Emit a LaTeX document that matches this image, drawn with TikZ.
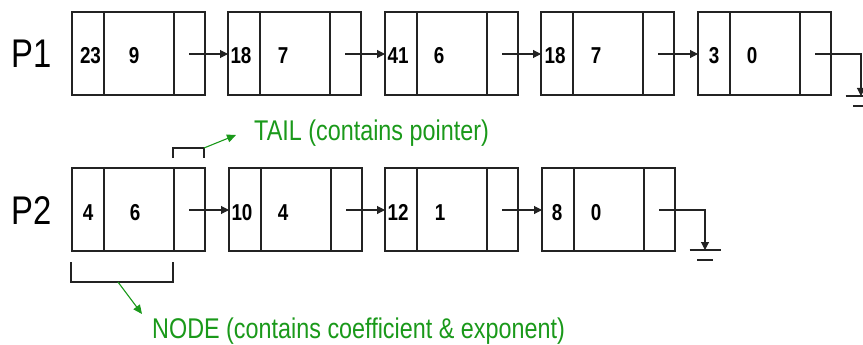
\documentclass[tikz,border=0pt]{standalone}
\usepackage{fontspec}
\setmainfont{Liberation Sans}[FakeStretch=0.82]
\usetikzlibrary{arrows.meta}

\definecolor{ink}{RGB}{35,35,35}
\definecolor{note}{RGB}{26,153,26}

\tikzset{
  cell/.style={draw=ink, line width=1.1pt, minimum height=83pt, inner sep=0pt, outer sep=0pt},
  num/.style={font=\fontsize{23}{23}\selectfont\bfseries, inner sep=0pt, anchor=base},
  ptr/.style={draw=ink, line width=1.1pt, -{Triangle[length=8pt,width=8pt]}},
  gnd/.style={draw=ink, line width=1.1pt},
  brace/.style={draw=ink, line width=1.1pt},
  notearrow/.style={draw=note, line width=1.1pt, -{Triangle[length=9pt,width=8pt]}},
  notetext/.style={text=note, font=\fontsize{28.5}{28.5}\selectfont, inner sep=0pt, anchor=base west},
  rowlabel/.style={font=\fontsize{40}{40}\selectfont, inner sep=0pt, anchor=base west}
}

% one term of the polynomial: coefficient cell, exponent cell, pointer cell
% #1 name, #2 left x, #3 top y, #4 coefficient, #5 its x offset, #6 exponent, #7 its x offset
\newcommand\polyterm[7]{%
  \node[cell, minimum width=32pt] (#1c) at (#2+16, #3+41.5) {};
  \node[cell, minimum width=70pt] (#1e) at (#2+67, #3+41.5) {};
  \node[cell, minimum width=31pt] (#1p) at (#2+117.5, #3+41.5) {};
  \node[num] (#1cv) at (#2+#5, #3+52) {#4};
  \node[num] (#1ev) at (#2+#7, #3+52) {#6};
  \coordinate (#1s) at (#2+117, #3+42);
}

\begin{document}
\begin{tikzpicture}[x=1pt, y=-1pt]
  \useasboundingbox (0,0) rectangle (863,345);
  \clip (0,0) rectangle (863,345);

  % row labels
  \node[rowlabel] (p1) at (11,68) {P1};
  \node[rowlabel] (p2) at (11,224) {P2};

  % P1 = 23x^9 + 18x^7 + 41x^6 + 18x^7 + 3
  \polyterm{a1}{72}{12}{23}{18.5}{9}{62}
  \polyterm{a2}{228}{12}{18}{13}{7}{55}
  \polyterm{a3}{385}{12}{41}{13}{6}{54}
  \polyterm{a4}{541}{12}{18}{14}{7}{55}
  \polyterm{a5}{698}{12}{3}{16}{0}{54}

  % P2 = 4x^6 + 10x^4 + 12x + 8
  \polyterm{b1}{72}{168}{4}{16}{6}{63}
  \polyterm{b2}{229}{168}{10}{13}{4}{54}
  \polyterm{b3}{385}{168}{12}{13}{1}{55}
  \polyterm{b4}{542}{168}{8}{15}{0}{54}

  % links
  \foreach \u/\v in {a1/a2, a2/a3, a3/a4, a4/a5, b1/b2, b2/b3, b3/b4}
    \draw[ptr] (\u s) -- (\u s -| \v c.west);

  % null pointers to ground
  \coordinate (g1) at (861,96);
  \coordinate (g2) at (705,250);
  \draw[ptr] (a5s) -| (g1);
  \draw[ptr] (b4s) -| (g2);
  \foreach \g in {g1, g2} {
    \draw[gnd] (\g) ++(-15.5,0) -- ++(31,0);
    \draw[gnd] (\g) ++(-8,10) -- ++(16,0);
  }

  % bracket over the pointer cell
  \coordinate (tailmark) at (204,148);
  \draw[brace] (173,158) -- (173,148) -- (tailmark) -- (204,158);
  \node[notetext] (taillbl) at (254,140) {TAIL (contains pointer)};
  \coordinate (tailend) at (236,135);
  \draw[notearrow] (tailmark) -- (tailend);

  % bracket under the data cells
  \coordinate (nodemark) at (118,282);
  \draw[brace] (71,262) -- (71,282) -- (173,282) -- (173,262);
  \node[notetext] (nodelbl) at (152,338) {NODE (contains coefficient \& exponent)};
  \coordinate (nodeend) at (142,314);
  \draw[notearrow] (nodemark) -- (nodeend);
\end{tikzpicture}
\end{document}
